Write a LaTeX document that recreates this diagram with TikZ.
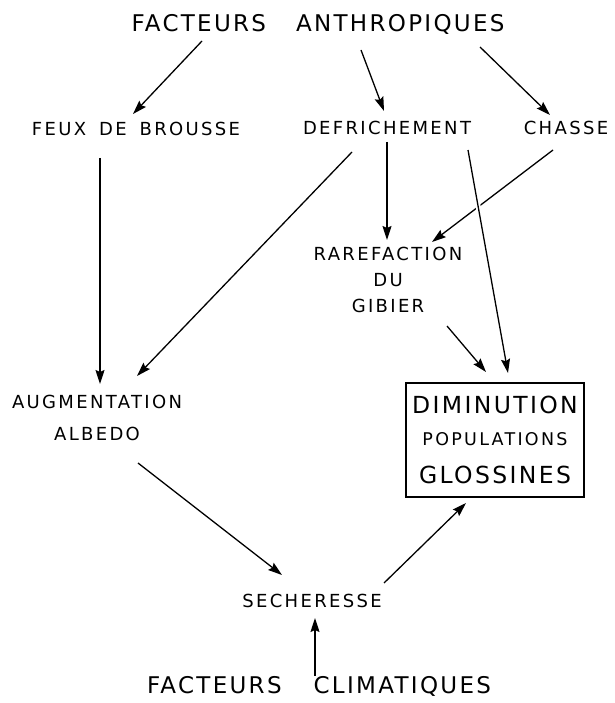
\documentclass[tikz,border=0pt]{standalone}
\usepackage{fontspec}
\usepackage{tikz}
\usetikzlibrary{arrows,arrows.meta}

\newfontfamily\lettering[LetterSpace=13, WordSpace=1.6]{DejaVu Sans}
\newfontfamily\letteringwide[LetterSpace=10]{DejaVu Sans}

\begin{document}
\begin{tikzpicture}[x=1pt, y=-1pt, ->, >={Stealth[length=14pt,width=9pt,inset=2pt]}, line width=1.3pt,
		every node/.style={inner sep=0pt, align=center},
		factor/.style={font=\letteringwide\fontsize{23}{28}\selectfont},
		effect/.style={font=\lettering\fontsize{18}{26}\selectfont},
		result/.style={draw, line width=1.4pt, minimum width=178pt, minimum height=114pt,
			font=\letteringwide\fontsize{23.5}{32}\selectfont}]
	\useasboundingbox (0,0) rectangle (614,703);

	\node[factor]                (ANTHRO)  at (318,24)  {FACTEURS\hspace{30pt}ANTHROPIQUES};
	\node[effect]                (FEUX)    at (136,129) {FEUX DE BROUSSE};
	\node[effect]                (DEFRICH) at (387,128) {DEFRICHEMENT};
	\node[effect]                (CHASSE)  at (566,128) {CHASSE};
	\node[effect]                (RAREF)   at (388,280) {RAREFACTION\\DU\\GIBIER};
	\node[effect, font=\lettering\fontsize{18}{32}\selectfont]
	                             (ALBEDO)  at (97,418)  {AUGMENTATION\\ALBEDO};
	\node[result]                (GLOSS)   at (495,440) {DIMINUTION\\{\lettering\fontsize{17.5}{26}\selectfont POPULATIONS}\\[6pt]GLOSSINES};
	\node[effect]                (SECHE)   at (312,601) {SECHERESSE};
	\node[factor]                (CLIMAT)  at (319,686) {FACTEURS\hspace{32pt}CLIMATIQUES};

	\path	([shift={(-116,17)}]ANTHRO.center)	edge	([shift={(-3,-15)}]FEUX.center)
			([shift={(43,26)}]ANTHRO.center)	edge	([shift={(-3,-17)}]DEFRICH.center)
			([shift={(162,23)}]ANTHRO.center)	edge	([shift={(-16,-13)}]CHASSE.center)
			([shift={(-36,29)}]FEUX.center)		edge	([shift={(3,-34)}]ALBEDO.center)
			([shift={(-35,24)}]DEFRICH.center)	edge	([shift={(40,-42)}]ALBEDO.center)
			([shift={(0,14)}]DEFRICH.center)	edge	([shift={(-1,-40)}]RAREF.center)
			([shift={(-13,22)}]CHASSE.center)	edge	([shift={(44,-38)}]RAREF.center)
			([shift={(59,46)}]RAREF.center)		edge	([shift={(-9,-68)}]GLOSS.center)
			([shift={(41,45)}]ALBEDO.center)	edge	([shift={(-30,-26)}]SECHE.center)
			([shift={(72,-18)}]SECHE.center)	edge	([shift={(-29,63)}]GLOSS.center)
			([shift={(-4,-10)}]CLIMAT.center)	edge	([shift={(3,17)}]SECHE.center);

	% crosses the CHASSE line, so it gets a white gap
	\draw[preaction={draw=white, line width=5pt, -}]
		([shift={(81,22)}]DEFRICH.center) -- ([shift={(13,-67)}]GLOSS.center);
\end{tikzpicture}
\end{document}
